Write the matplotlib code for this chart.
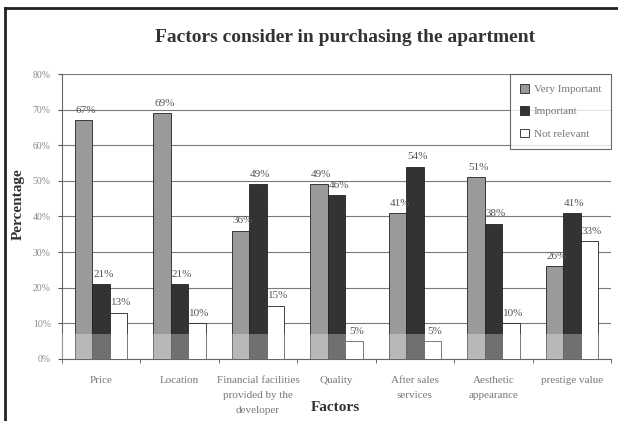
import numpy as np
import matplotlib.pyplot as plt
from matplotlib.patches import Rectangle
from matplotlib.lines import Line2D

factors = ["Price", "Location", "Financial facilities\nprovided by the\ndeveloper",
           "Quality", "After sales\nservices", "Aesthetic\nappearance", "prestige value"]
very_important = [67, 69, 36, 49, 41, 51, 26]
important = [21, 21, 49, 46, 54, 38, 41]
not_relevant = [13, 10, 15, 5, 5, 10, 33]
series_names = ["Very Important", "Important", "Not relevant"]

plt.rcParams['font.family'] = ['Liberation Serif', 'DejaVu Serif']

fig = plt.figure(figsize=(6.18, 4.21), dpi=100)
ax = fig.add_axes([0.1003, 0.1473, 0.8884, 0.6769])

x = np.arange(len(factors))
w = 0.223
colors = ["#9a9a9a", "#333333", "#ffffff"]
series = [very_important, important, not_relevant]

for i, (vals, col, name) in enumerate(zip(series, colors, series_names)):
    pos = x + (i - 1) * w
    ax.bar(pos, vals, w, color=col, edgecolor="#222222", linewidth=0.6,
           label=name, zorder=3)
    for px, v in zip(pos, vals):
        ax.text(px + 0.03, v + 1.5, f"{v}%", ha="center", va="bottom",
                fontsize=8, color="#555555", zorder=5)

# faded strip along the floor of the chart
ax.add_patch(Rectangle((-0.5, 0), len(factors), 7, facecolor="white",
                       alpha=0.3, edgecolor="none", zorder=4))

ax.set_xlim(-0.5, len(factors) - 0.5)
ax.set_ylim(0, 80)
ax.set_yticks(range(0, 81, 10))
ax.set_yticklabels([f"{v}%" for v in range(0, 81, 10)], fontsize=7, color="#8a8a8a")
ax.yaxis.grid(True, color="#7a7a7a", linewidth=0.8, zorder=0)
ax.tick_params(axis="y", length=3, pad=5, color="#555555")

ax.set_xticks(x)
ax.set_xticklabels(factors, fontsize=8, color="#777777", linespacing=1.85)
ax.tick_params(axis="x", which="major", length=0, pad=12)
ax.set_xticks(np.arange(len(factors) + 1) - 0.5, minor=True)
ax.tick_params(axis="x", which="minor", length=3, color="#555555")

for s in ["top", "right"]:
    ax.spines[s].set_visible(False)
ax.spines["left"].set_color("#666666")
ax.spines["bottom"].set_color("#666666")

fig.text(0.030, 0.515, "Percentage", rotation=90, ha="center", va="center",
         fontsize=11, fontweight="bold", color="#333333")
fig.text(0.543, 0.033, "Factors", ha="center", va="center",
         fontsize=11, fontweight="bold", color="#333333")

fig.text(0.558, 0.912, "Factors consider in purchasing the apartment",
         ha="center", va="center", fontsize=14, fontweight="bold", color="#333333")

leg = ax.legend(loc="upper right", bbox_to_anchor=(1.0, 1.0), fontsize=8,
                frameon=True, fancybox=False, edgecolor="#444444",
                handlelength=0.8, handleheight=0.8, labelspacing=1.1,
                borderpad=0.9, handletextpad=0.4, borderaxespad=0)
leg.get_frame().set_linewidth(0.8)
for t in leg.get_texts():
    t.set_color("#777777")
leg.set_zorder(6)

# outer frame on the left and top edges
fig.add_artist(Line2D([0.008, 0.008], [0, 0.98], color="#222222", linewidth=2))
fig.add_artist(Line2D([0.008, 1.0], [0.98, 0.98], color="#222222", linewidth=2))

fig.savefig("out.png", dpi=100)
